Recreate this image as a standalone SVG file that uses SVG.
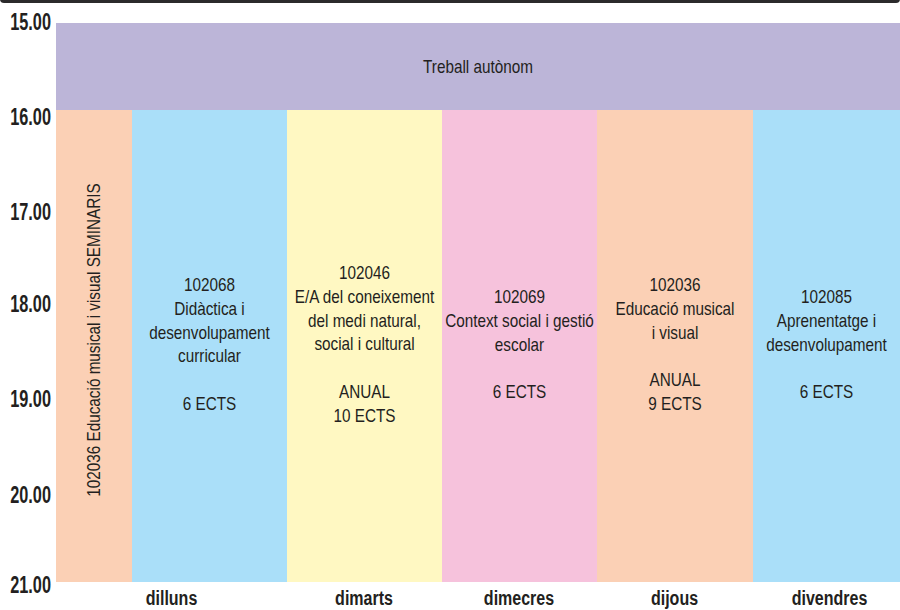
<svg xmlns="http://www.w3.org/2000/svg" width="900" height="610" viewBox="0 0 900 610">
<style>
.t{font-family:"Liberation Sans",Arial,sans-serif;font-size:18px;fill:#231f20;text-anchor:middle}
.ax{font-family:"Liberation Sans",Arial,sans-serif;font-size:24px;font-weight:bold;fill:#231f20;text-anchor:end}
.day{font-family:"Liberation Sans",Arial,sans-serif;font-size:20px;font-weight:bold;fill:#231f20;text-anchor:middle}
</style>
<rect x="0" y="0" width="900" height="610" fill="#ffffff"/>
<rect x="0" y="-6" width="900" height="9" rx="4" fill="#2b2a2b"/>

<g id="autonom">
<rect x="56" y="23" width="844" height="87" fill="#bcb5d8"/>
<text class="t" transform="translate(478,72.5) scale(0.85,1)">Treball autònom</text>
</g>

<g id="seminaris">
<rect x="56" y="110" width="76" height="472" fill="#fbd0b5"/>
<text class="t" transform="translate(100,340) rotate(-90) scale(0.85,1)">102036 Educació musical i visual SEMINARIS</text>
</g>

<g id="dilluns">
<rect x="132" y="110" width="155" height="472" fill="#aadff9"/>
<g transform="translate(209.5,0) scale(0.85,1)">
<text class="t" x="0" y="291">102068</text>
<text class="t" x="0" y="314.8">Didàctica i</text>
<text class="t" x="0" y="338.6">desenvolupament</text>
<text class="t" x="0" y="362.4">curricular</text>
<text class="t" x="0" y="410">6 ECTS</text>
</g>
</g>

<g id="dimarts">
<rect x="287" y="110" width="155" height="472" fill="#fff8c2"/>
<g transform="translate(364.5,0) scale(0.85,1)">
<text class="t" x="0" y="279">102046</text>
<text class="t" x="0" y="302.8">E/A del coneixement</text>
<text class="t" x="0" y="326.6">del medi natural,</text>
<text class="t" x="0" y="350.4">social i cultural</text>
<text class="t" x="0" y="398">ANUAL</text>
<text class="t" x="0" y="421.8">10 ECTS</text>
</g>
</g>

<g id="dimecres">
<rect x="442" y="110" width="155" height="472" fill="#f6c2dc"/>
<g transform="translate(519.5,0) scale(0.85,1)">
<text class="t" x="0" y="303">102069</text>
<text class="t" x="0" y="326.8">Context social i gestió</text>
<text class="t" x="0" y="350.6">escolar</text>
<text class="t" x="0" y="398.2">6 ECTS</text>
</g>
</g>

<g id="dijous">
<rect x="597" y="110" width="156" height="472" fill="#fbd0b5"/>
<g transform="translate(675,0) scale(0.85,1)">
<text class="t" x="0" y="291">102036</text>
<text class="t" x="0" y="314.8">Educació musical</text>
<text class="t" x="0" y="338.6">i visual</text>
<text class="t" x="0" y="386.2">ANUAL</text>
<text class="t" x="0" y="410">9 ECTS</text>
</g>
</g>

<g id="divendres">
<rect x="753" y="110" width="147" height="472" fill="#aadff9"/>
<g transform="translate(826.5,0) scale(0.85,1)">
<text class="t" x="0" y="303">102085</text>
<text class="t" x="0" y="326.8">Aprenentatge i</text>
<text class="t" x="0" y="350.6">desenvolupament</text>
<text class="t" x="0" y="398.2">6 ECTS</text>
</g>
</g>

<g id="hores">
<text class="ax" transform="translate(51,30) scale(0.68,1)">15.00</text>
<text class="ax" transform="translate(51,125) scale(0.68,1)">16.00</text>
<text class="ax" transform="translate(51,220) scale(0.68,1)">17.00</text>
<text class="ax" transform="translate(51,312) scale(0.68,1)">18.00</text>
<text class="ax" transform="translate(51,407) scale(0.68,1)">19.00</text>
<text class="ax" transform="translate(51,503) scale(0.68,1)">20.00</text>
<text class="ax" transform="translate(51,593) scale(0.68,1)">21.00</text>
</g>

<g id="dies">
<text class="day" transform="translate(171.5,605) scale(0.8,1)">dilluns</text>
<text class="day" transform="translate(364,605) scale(0.8,1)">dimarts</text>
<text class="day" transform="translate(519,605) scale(0.8,1)">dimecres</text>
<text class="day" transform="translate(674.5,605) scale(0.8,1)">dijous</text>
<text class="day" transform="translate(829.5,605) scale(0.8,1)">divendres</text>
</g>

<g id="connectors"></g>
</svg>
